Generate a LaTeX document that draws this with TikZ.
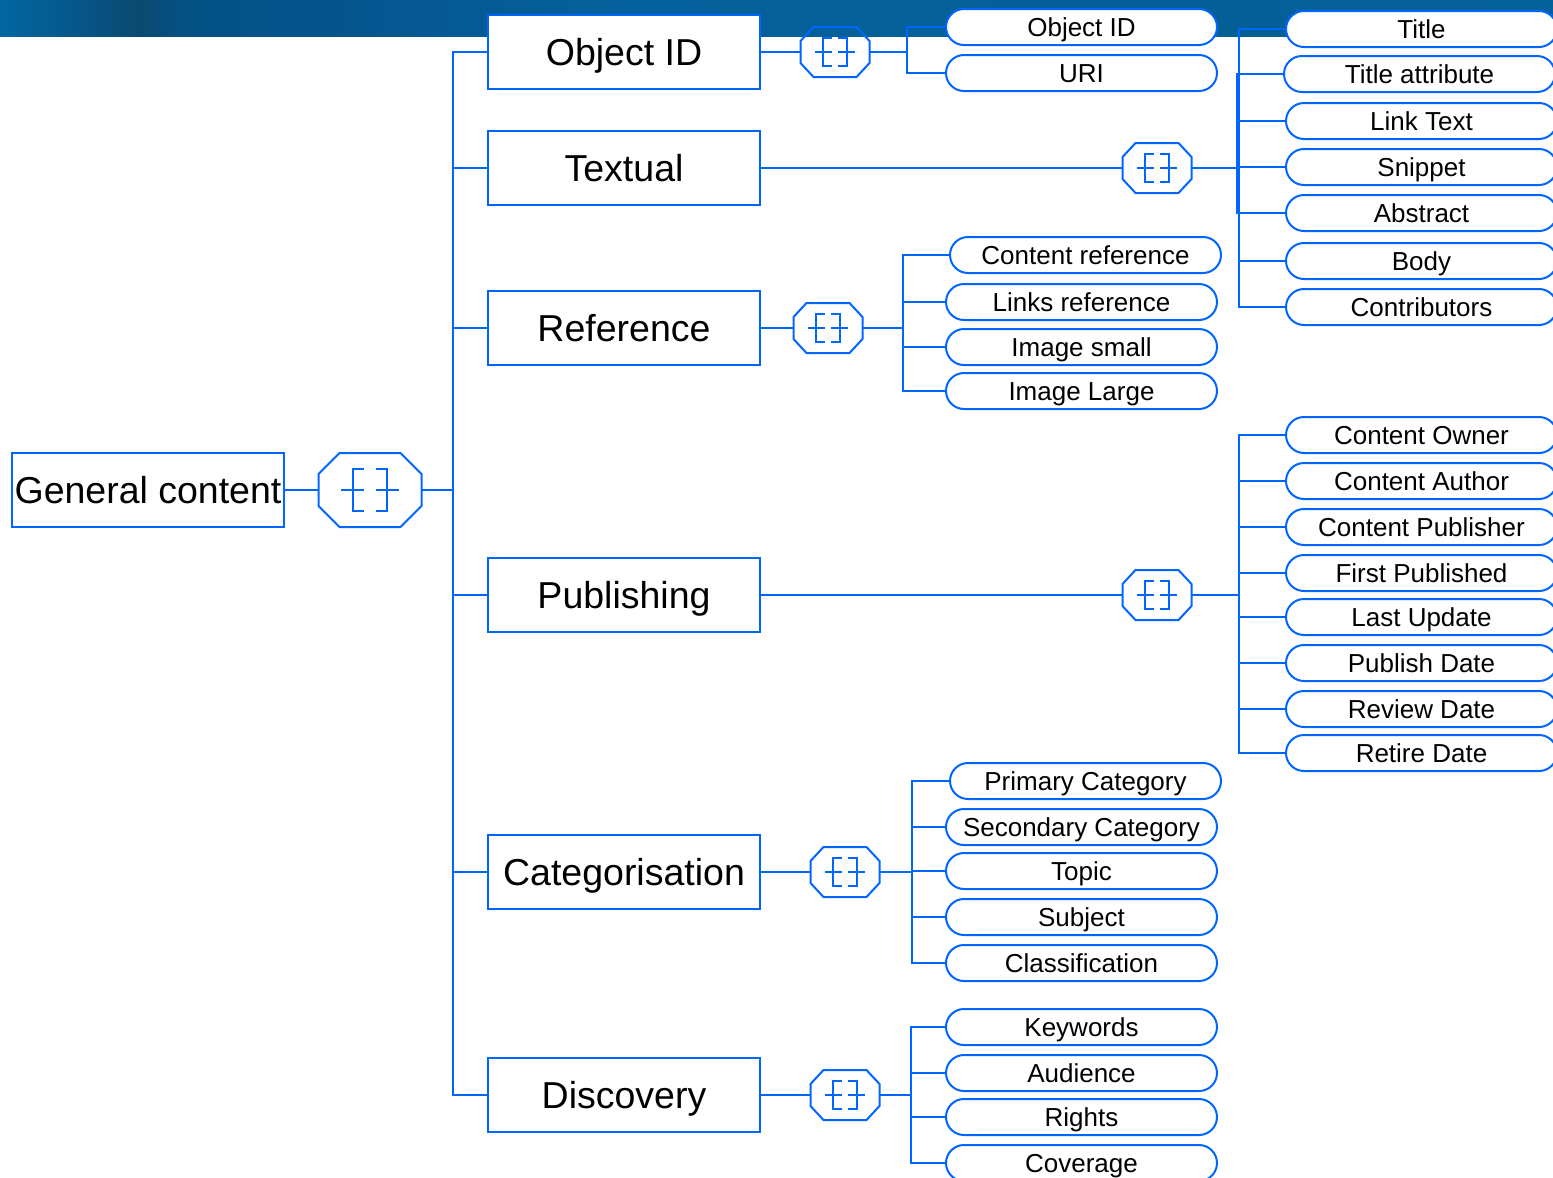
\documentclass[tikz,border=0pt]{standalone}
\usepackage{fontspec}
\setmainfont{Liberation Sans}
\definecolor{lnc}{RGB}{0,102,255}
\pgfdeclarehorizontalshading{banner}{100bp}{rgb(0bp)=(0.01,0.40,0.63); rgb(25bp)=(0.01,0.40,0.63); rgb(27bp)=(0.02,0.35,0.56); rgb(29.5bp)=(0.04,0.29,0.44); rgb(31bp)=(0.02,0.32,0.52); rgb(36bp)=(0.02,0.33,0.56); rgb(45bp)=(0.02,0.38,0.61); rgb(60bp)=(0.02,0.37,0.59); rgb(75bp)=(0.02,0.38,0.60); rgb(100bp)=(0.02,0.38,0.60)}
\newcommand\octdraw[9]{%
 \draw[ln] ([shift={(-#2+#4,-#3)}]#1.center) -- ([shift={(#2-#4,-#3)}]#1.center) -- ([shift={(#2,-#3+#5)}]#1.center) -- ([shift={(#2,#3-#5)}]#1.center) -- ([shift={(#2-#4,#3)}]#1.center) -- ([shift={(-#2+#4,#3)}]#1.center) -- ([shift={(-#2,#3-#5)}]#1.center) -- ([shift={(-#2,-#3+#5)}]#1.center) -- cycle;
 \draw[ln] ([shift={(-#6+#8,-#7)}]#1.center) -- ([shift={(-#6,-#7)}]#1.center) -- ([shift={(-#6,#7)}]#1.center) -- ([shift={(-#6+#8,#7)}]#1.center);
 \draw[ln] ([shift={(#6-#8,-#7)}]#1.center) -- ([shift={(#6,-#7)}]#1.center) -- ([shift={(#6,#7)}]#1.center) -- ([shift={(#6-#8,#7)}]#1.center);
 \draw[ln] ([shift={(-#6-#9,0)}]#1.center) -- ([shift={(-#6+#8,0)}]#1.center);
 \draw[ln] ([shift={(#6+#9,0)}]#1.center) -- ([shift={(#6-#8,0)}]#1.center);
}
\newcommand\smalloct[1]{\octdraw{#1}{34.5}{25}{13}{14}{12}{14}{8}{7}}
\newcommand\bigoct[1]{\octdraw{#1}{51.5}{37}{21}{21}{17}{21}{10}{11}}
\begin{document}
\begin{tikzpicture}[x=1pt,y=-1pt,
 ln/.style={draw=lnc, line width=2pt, line cap=rect},
 box/.style={draw=lnc, line width=2pt, fill=white, minimum width=272pt, minimum height=74pt, inner sep=0pt, font=\fontsize{37.5}{44}\selectfont, text height=26.8pt, text depth=0pt},
 pill/.style={draw=lnc, line width=2pt, fill=white, rounded corners=18pt, minimum width=271pt, minimum height=36pt, inner sep=0pt, font=\fontsize{26}{30}\selectfont, text height=18.6pt, text depth=0pt},
 oct/.style={inner sep=0pt, draw=none}]
\useasboundingbox (0,0) rectangle (1553,1178);
\clip (0,0) rectangle (1553,1178);
\shade[shading=banner] (0,0) rectangle (1553,36);

% main boxes
\node[box] (gc) at (148,490) {General content};
\node[oct, minimum width=103pt, minimum height=74pt] (og) at (370,490) {};
\node[box] (b1) at (624,52) {Object ID};
\node[box] (b2) at (624,168) {Textual};
\node[box] (b3) at (624,328) {Reference};
\node[box] (b4) at (624,595) {Publishing};
\node[box] (b5) at (624,872) {Categorisation};
\node[box] (b6) at (624,1095) {Discovery};

% octagons
\node[oct, minimum width=69pt, minimum height=50pt] (o1) at (835,52) {};
\node[oct, minimum width=69pt, minimum height=50pt] (o2) at (1157,168) {};
\node[oct, minimum width=69pt, minimum height=50pt] (o3) at (828,328) {};
\node[oct, minimum width=69pt, minimum height=50pt] (o4) at (1157,595) {};
\node[oct, minimum width=69pt, minimum height=50pt] (o5) at (845,872) {};
\node[oct, minimum width=69pt, minimum height=50pt] (o6) at (845,1095) {};
\bigoct{og}
\smalloct{o1}\smalloct{o2}\smalloct{o3}\smalloct{o4}\smalloct{o5}\smalloct{o6}

% pills
\node[pill] (p11) at (1081.5,27) {Object ID};
\node[pill] (p12) at (1081.5,73) {URI};
\node[pill] (p31) at (1085.5,255) {Content reference};
\node[pill] (p32) at (1081.5,302) {Links reference};
\node[pill] (p33) at (1081.5,347) {Image small};
\node[pill] (p34) at (1081.5,391) {Image Large};
\node[pill] (p51) at (1085.5,781) {Primary Category};
\node[pill] (p52) at (1081.5,827) {Secondary Category};
\node[pill] (p53) at (1081.5,871) {Topic};
\node[pill] (p54) at (1081.5,917) {Subject};
\node[pill] (p55) at (1081.5,963) {Classification};
\node[pill] (p61) at (1081.5,1027) {Keywords};
\node[pill] (p62) at (1081.5,1073) {Audience};
\node[pill] (p63) at (1081.5,1117) {Rights};
\node[pill] (p64) at (1081.5,1163) {Coverage};
\node[pill] (p21) at (1421.5,29) {Title};
\node[pill] (p22) at (1419.5,74) {Title attribute};
\node[pill] (p23) at (1421.5,121) {Link Text};
\node[pill] (p24) at (1421.5,167) {Snippet};
\node[pill] (p25) at (1421.5,213) {Abstract};
\node[pill] (p26) at (1421.5,261) {Body};
\node[pill] (p27) at (1421.5,307) {Contributors};
\node[pill] (p41) at (1421.5,435) {Content Owner};
\node[pill] (p42) at (1421.5,481) {Content Author};
\node[pill] (p43) at (1421.5,527) {Content Publisher};
\node[pill] (p44) at (1421.5,573) {First Published};
\node[pill] (p45) at (1421.5,617) {Last Update};
\node[pill] (p46) at (1421.5,663) {Publish Date};
\node[pill] (p47) at (1421.5,709) {Review Date};
\node[pill] (p48) at (1421.5,753) {Retire Date};

% main bus
\coordinate (mb) at (453,0);
\draw[ln] (gc.east) -- (og.west);
\draw[ln] (og.east) -- (mb |- og.east);
\draw[ln] (b1.west) -| (mb |- b6.west) -- (b6.west);
\foreach \b in {b2,b3,b4,b5} \draw[ln] (mb |- \b.west) -- (\b.west);
\foreach \i in {1,...,6} \draw[ln] (b\i.east) -- (o\i.west);

% group 1
\coordinate (r1) at (907,0);
\draw[ln] (o1.east) -- (r1 |- o1.east);
\draw[ln] (p11.west) -| (r1 |- p12.west) -- (p12.west);

% group 2
\coordinate (r2) at (1239,0);
\coordinate (r2b) at (1237,0);
\draw[ln] (o2.east) -- (r2 |- o2.east);
\draw[ln] (p21.west) -| (r2 |- p27.west) -- (p27.west);
\draw[ln] (r2b |- p22.west) -- (r2b |- p25.west);
\foreach \p in {p22,p23,p24,p25,p26} \draw[ln] (r2 |- \p.west) -- (\p.west);

% group 3
\coordinate (r3) at (903,0);
\draw[ln] (o3.east) -- (r3 |- o3.east);
\draw[ln] (p31.west) -| (r3 |- p34.west) -- (p34.west);
\foreach \p in {p32,p33} \draw[ln] (r3 |- \p.west) -- (\p.west);

% group 4
\coordinate (r4) at (1239,0);
\draw[ln] (o4.east) -- (r4 |- o4.east);
\draw[ln] (p41.west) -| (r4 |- p48.west) -- (p48.west);
\foreach \p in {p42,p43,p44,p45,p46,p47} \draw[ln] (r4 |- \p.west) -- (\p.west);

% group 5
\coordinate (r5) at (912,0);
\draw[ln] (o5.east) -- (r5 |- o5.east);
\draw[ln] (p51.west) -| (r5 |- p55.west) -- (p55.west);
\foreach \p in {p52,p53,p54} \draw[ln] (r5 |- \p.west) -- (\p.west);

% group 6
\coordinate (r6) at (911,0);
\draw[ln] (o6.east) -- (r6 |- o6.east);
\draw[ln] (p61.west) -| (r6 |- p64.west) -- (p64.west);
\foreach \p in {p62,p63} \draw[ln] (r6 |- \p.west) -- (\p.west);
\end{tikzpicture}
\end{document}
